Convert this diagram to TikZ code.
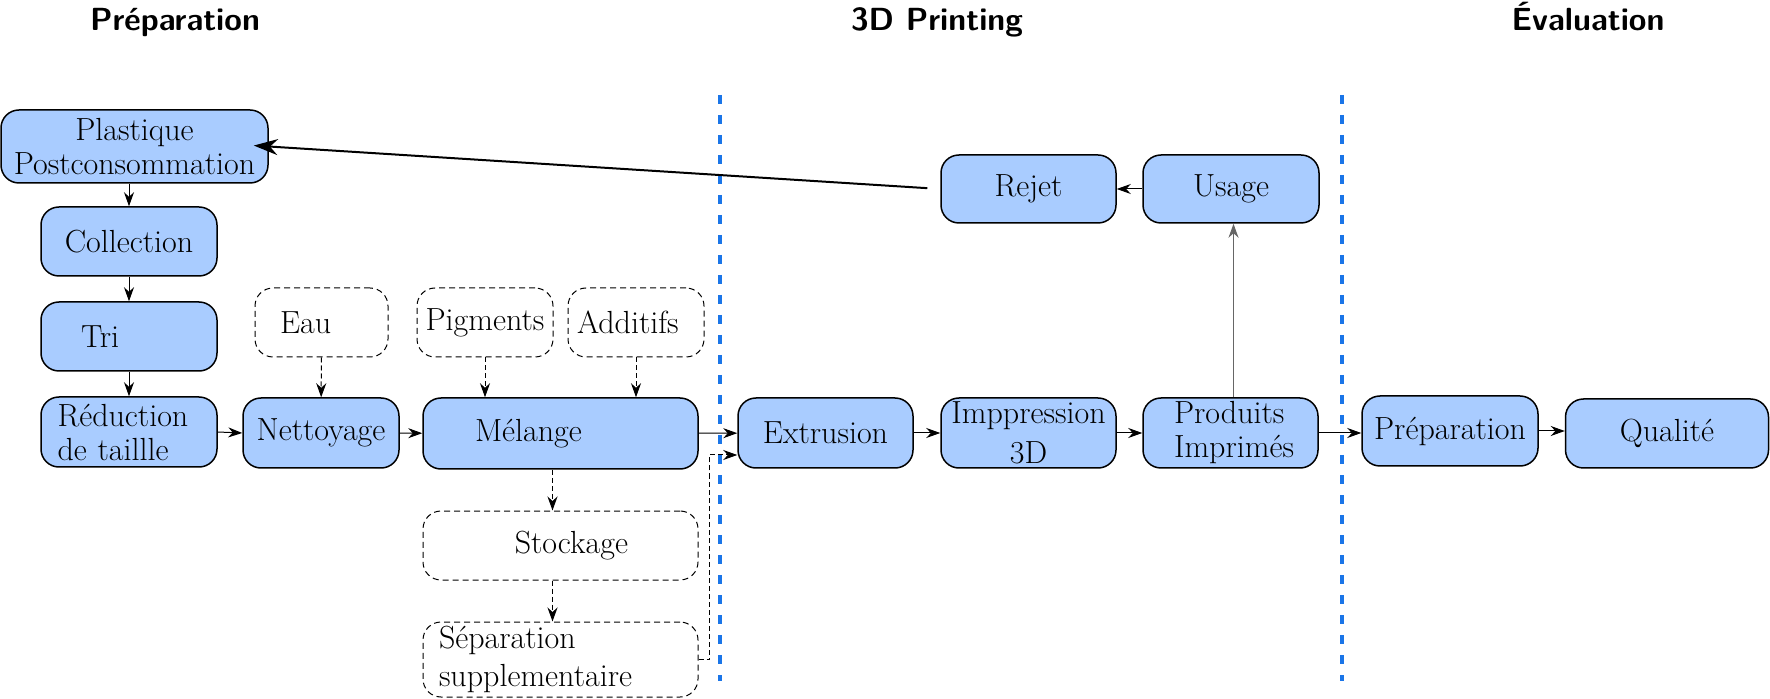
\documentclass[tikz,border=0pt]{standalone}
\usepackage{fontspec}
\usetikzlibrary{arrows.meta,calc}

\definecolor{stagefill}{RGB}{169,204,255}
\definecolor{phaseblue}{RGB}{26,117,232}

\tikzset{
  stage/.style={draw, fill=stagefill, line width=0.75pt, rounded corners=9pt, inner sep=0pt, align=center, font=\fontsize{16}{17}\selectfont},
  extra/.style={stage, fill=none, line width=0.5pt, dash pattern=on 3pt off 2pt},
  flow/.style={line width=0.5pt, -{Stealth[length=7pt,width=5pt]}},
  feed/.style={flow, dash pattern=on 2.5pt off 1.5pt},
  phase/.style={font=\fontsize{16}{19}\selectfont\sffamily\bfseries, anchor=base},
  divider/.style={phaseblue, line width=2pt, dash pattern=on 4.5pt off 5.5pt},
}

\begin{document}
\begin{tikzpicture}[x=0.5pt,y=-0.5pt]
	\useasboundingbox (0,0) rectangle (1770,699);
	
	%Phase titles
	\node[phase] (hprep) at (175,31) {Préparation};
	\node[phase] (hprint) at (937,31) {3D Printing};
	\node[phase] (heval) at (1588,31) {Évaluation};
	
	%Dividers
	\draw[divider] (720,95) -- (720,681);
	\draw[divider] (1342,95) -- (1342,681);
	
	%Preparation
	\node[stage, minimum width=133.5pt, minimum height=36.5pt] (plast) at (134.5,146.5) {Plastique\\Postconsommation};
	\node[stage, minimum width=88pt, minimum height=34.5pt] (coll) at (129,241.5) {Collection};
	\node[stage, minimum width=88pt, minimum height=34.5pt, text width=48pt, align=left] (tri) at (129,336.5) {Tri};
	\node[stage, minimum width=88pt, minimum height=35pt, text width=71.5pt, align=left] (red) at (129,432) {Réduction\\de taillle};
	\node[stage, minimum width=78pt, minimum height=35pt] (net) at (321,433) {Nettoyage};
	\node[extra, minimum width=66.5pt, minimum height=34.5pt, text width=41.5pt, align=left] (eau) at (321.5,322.5) {Eau};
	\node[extra, minimum width=68pt, minimum height=34.5pt] (pig) at (485,322.5) {Pigments};
	\node[extra, minimum width=68pt, minimum height=34.5pt, text width=59pt, align=left] (add) at (636,322.5) {Additifs};
	\node[stage, minimum width=137.5pt, minimum height=35.5pt, text width=85.5pt, align=left] (mel) at (560.5,433.5) {Mélange};
	\node[extra, minimum width=137.5pt, minimum height=34.5pt, text width=67.5pt, align=right] (stock) at (560.5,545.5) {Stockage};
	\node[extra, minimum width=137.5pt, minimum height=37.5pt, text width=121.5pt, align=left] (sep) at (560.5,659.5) {Séparation\\[2pt]supplementaire};
	
	%3D printing
	\node[stage, minimum width=87.5pt, minimum height=35pt] (ext) at (825.5,433) {Extrusion};
	\node[stage, minimum width=87.5pt, minimum height=35pt] (imp) at (1028.5,433) {Imppression\\[3pt]3D};
	\node[stage, minimum width=87.5pt, minimum height=35pt, text width=56.5pt, align=left] (prod) at (1230.5,433) {Produits\\Imprimés};
	\node[stage, minimum width=87.5pt, minimum height=34pt] (rejet) at (1028.5,189) {Rejet};
	\node[stage, minimum width=88pt, minimum height=34pt] (usage) at (1231,189) {Usage};
	
	%Evaluation
	\node[stage, minimum width=88pt, minimum height=35pt] (prep) at (1450,431) {Préparation};
	\node[stage, minimum width=101.5pt, minimum height=34.5pt] (qual) at (1667,433.5) {Qualité};
	
	%Connectors
	\draw[flow] (coll.north |- plast.south) -- (coll.north);
	\draw[flow] (coll) -- (tri);
	\draw[flow] (tri) -- (red);
	\draw[flow] (red.east) -- (net.west);
	\draw[feed] (eau) -- (net);
	\draw[flow] (net) -- (mel);
	\draw[feed] (pig.south) -- (pig.south |- mel.north);
	\draw[feed] (add.south) -- (add.south |- mel.north);
	\draw[feed] ([xshift=-4pt]mel.south) -- ([xshift=-4pt]stock.north);
	\draw[feed] ([xshift=-4pt]stock.south) -- ([xshift=-4pt]sep.north);
	\draw[feed] (sep.east) -- ++(11,0) |- ($(ext.west)+(0,22)$);
	\draw[flow] (mel) -- (ext);
	\draw[flow] (ext) -- (imp);
	\draw[flow] (imp) -- (prod);
	\draw[flow] (prod.east) -- (prod.east -| prep.west);
	\draw[flow] (prep.east) -- (prep.east -| qual.west);
	\draw[flow, gray!80!black] ([xshift=1.5pt]prod.north) -- ([xshift=1.5pt]prod.north |- usage.south);
	\draw[flow] (usage) -- (rejet);
	\draw[line width=1pt, -{Stealth[length=12pt,width=8pt]}, shorten <=6.5pt, shorten >=-7.5pt] (rejet.west) -- (plast.east);
	
\end{tikzpicture}
\end{document}
